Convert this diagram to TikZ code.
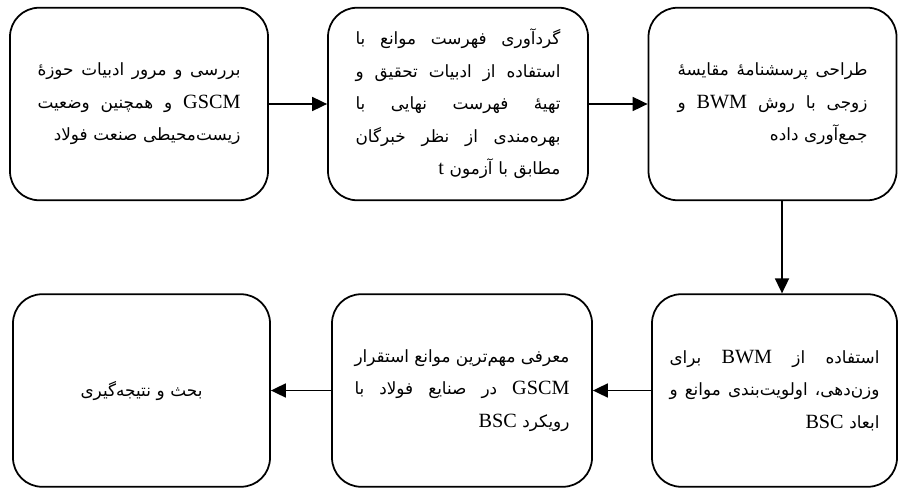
\documentclass[tikz,border=0pt]{standalone}
\usepackage{fontspec}
\setmainfont{Liberation Serif}
\newfontfamily\persian[Script=Arabic]{DejaVu Sans}
\usetikzlibrary{arrows.meta}
\TeXXeTstate=1
\newcommand{\lat}[1]{\beginL{\rmfamily\fontsize{11.5}{18.5}\selectfont #1}\endL}
\newcommand{\jline}[1]{\noindent\makebox[\hsize][s]{\spaceskip=0.3em plus 1fil\beginR #1\endR}}
\newcommand{\lline}[1]{\beginR #1\endR}

\begin{document}
\begin{tikzpicture}[
    box/.style={draw, line width=1pt, rounded corners=0.58cm,
      minimum height=3.85cm, align=right,
      font=\persian\fontsize{9.6}{18.5}\selectfont},
  ]
  \useasboundingbox (0,0) rectangle (17.96,-9.76);
  \draw
    (2.78,-2.08) node[box, minimum width=5.16cm, text width=4.06cm] (1){\jline{بررسی و مرور ادبیات حوزهٔ}\\
      \jline{\lat{GSCM} و همچنین وضعیت}\\
      \lline{زیست‌محیطی صنعت فولاد}}
    (9.16,-2.08) node[box, minimum width=5.2cm, text width=4.1cm] (2){\jline{گردآوری فهرست موانع با}\\
      \jline{استفاده از ادبیات تحقیق و}\\
      \jline{تهیهٔ فهرست نهایی با}\\
      \jline{بهره‌مندی از نظر خبرگان}\\
      \lline{مطابق با آزمون \lat{t}}}
    (15.45,-2.08) node[box, minimum width=4.96cm, text width=3.8cm] (3){\jline{طراحی پرسشنامهٔ مقایسهٔ}\\
      \jline{زوجی با روش \lat{BWM} و}\\
      \lline{جمع‌آوری داده}}
    (15.49,-7.81) node[box, minimum width=4.9cm, text width=4.2cm] (4){\jline{استفاده از \lat{BWM} برای}\\
      \jline{وزن‌دهی، اولویت‌بندی موانع و}\\
      \lline{ابعاد \lat{BSC}}}
    (9.24,-7.81) node[box, minimum width=5.2cm, text width=4.3cm] (5){\jline{معرفی مهم‌ترین موانع استقرار}\\
      \jline{\lat{GSCM} در صنایع فولاد با}\\
      \lline{رویکرد \lat{BSC}}}
    (2.83,-7.81) node[box, minimum width=5.14cm, text width=4.0cm, align=center] (6){\lline{بحث و نتیجه‌گیری}};
  \begin{scope}[-{Triangle[length=0.3cm,width=0.28cm]}, line width=1pt]
    \draw (1) to (2);
    \draw (2) to (3);
    \draw ([xshift=0.19cm]3.south) to ([xshift=0.19cm]3.south |- 4.north);
    \draw (4) to (5);
    \draw (5) to (6);
  \end{scope}
\end{tikzpicture}
\end{document}
